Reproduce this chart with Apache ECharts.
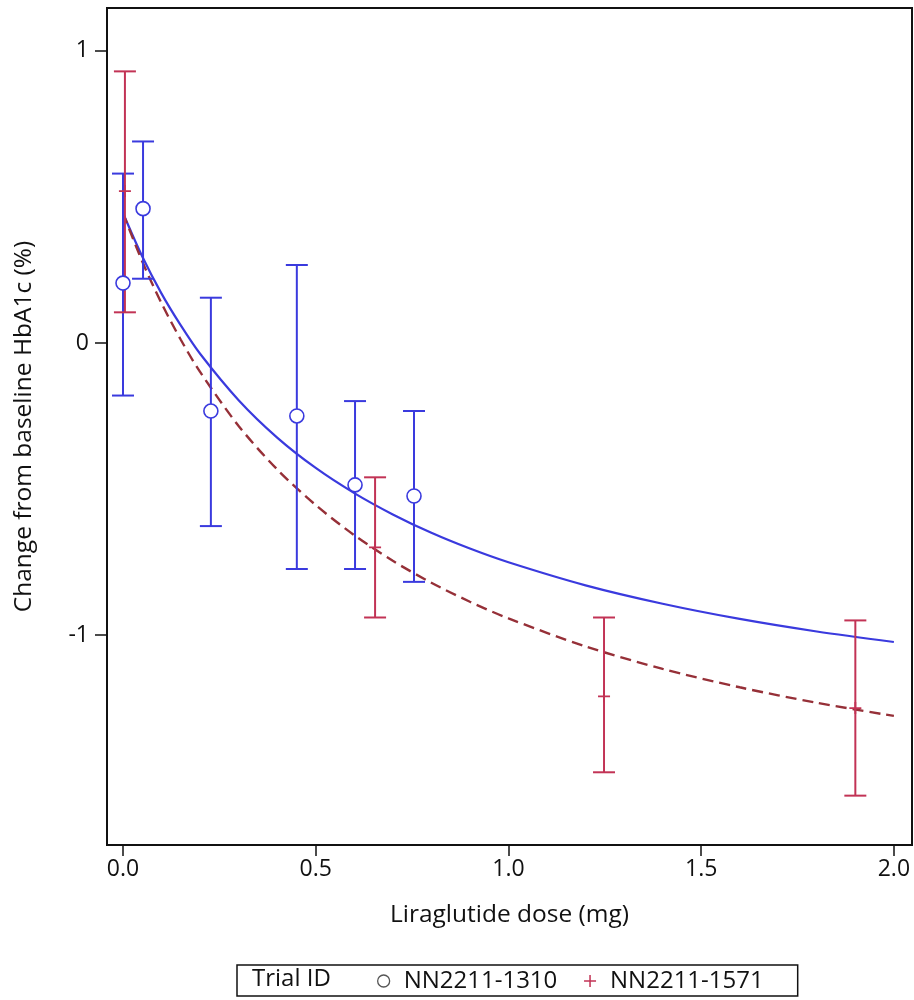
<!DOCTYPE html>
<html>
<head>
<meta charset="utf-8">
<script src="https://cdn.jsdelivr.net/npm/echarts@6/dist/echarts.min.js"></script>
<style>html,body{margin:0;padding:0;background:#fff}#c{width:914px;height:1000px}</style>
</head>
<body>
<div id="c"></div>
<script>
// Trial NN2211-1310 (blue, circles)
const doseA = [0, 0.052, 0.228, 0.451, 0.602, 0.755];
const meanA = [0.205, 0.46, -0.233, -0.25, -0.486, -0.524];
const lowA  = [-0.18, 0.22, -0.627, -0.774, -0.774, -0.818];
const highA = [0.58, 0.69, 0.155, 0.267, -0.199, -0.233];
// Trial NN2211-1571 (red, plus)
const doseB = [0.005, 0.654, 1.248, 1.90];
const meanB = [0.52, -0.70, -1.21, -1.25];
const lowB  = [0.105, -0.94, -1.47, -1.55];
const highB = [0.93, -0.46, -0.94, -0.95];
// Fitted curves
const curveX = [0, 0.05, 0.1, 0.15, 0.2, 0.3, 0.4, 0.5, 0.6, 0.7, 0.8, 0.9, 1.0, 1.2, 1.4, 1.6, 1.8, 2.0];
const curveA = [0.445, 0.296, 0.169, 0.060, -0.037, -0.196, -0.324, -0.428, -0.514, -0.587, -0.650, -0.704, -0.751, -0.830, -0.893, -0.945, -0.988, -1.024];
const curveB = [0.445, 0.279, 0.136, 0.011, -0.099, -0.284, -0.433, -0.555, -0.658, -0.746, -0.821, -0.886, -0.943, -1.039, -1.116, -1.179, -1.232, -1.277];
const xTicks = [0, 0.5, 1.0, 1.5, 2.0];
const yTicks = [-1, 0, 1];
const legendTitle = 'Trial ID';
const nameA = 'NN2211-1310';
const nameB = 'NN2211-1571';

const blue = '#3a3ade';
const red = '#c23355';
const redLine = '#963038';
const FONT = 'Open Sans';

function errBar(color, capHalf) {
  return function (params, api) {
    const x = api.value(0), lo = api.value(1), hi = api.value(2);
    const pH = api.coord([x, hi]), pL = api.coord([x, lo]);
    const st = { stroke: color, lineWidth: 2 };
    return { type: 'group', children: [
      { type: 'line', shape: { x1: pH[0], y1: pH[1], x2: pL[0], y2: pL[1] }, style: st },
      { type: 'line', shape: { x1: pH[0] - capHalf, y1: pH[1], x2: pH[0] + capHalf, y2: pH[1] }, style: st },
      { type: 'line', shape: { x1: pL[0] - capHalf, y1: pL[1], x2: pL[0] + capHalf, y2: pL[1] }, style: st }
    ] };
  };
}

const chart = echarts.init(document.getElementById('c'), null, { renderer: 'canvas' });
const plusPath = 'path://M0,5 L10,5 M5,0 L5,10';
chart.setOption({
  animation: false,
  backgroundColor: '#fff',
  textStyle: { fontFamily: FONT },
  grid: { left: 107, top: 8, right: 2, bottom: 155, show: true, borderColor: '#111', borderWidth: 2, backgroundColor: '#fff' },
  xAxis: {
    type: 'value', min: -0.0415, max: 2.047,
    name: 'Liraglutide dose (mg)', nameLocation: 'middle', nameGap: 58,
    nameTextStyle: { fontSize: 24.5, color: '#111', fontFamily: FONT },
    axisLine: { show: true, onZero: false, lineStyle: { color: '#111', width: 2 } },
    axisTick: { show: true, length: 11, customValues: xTicks, lineStyle: { color: '#111', width: 1.5 } },
    axisLabel: { customValues: xTicks, fontSize: 23, color: '#111', margin: 13, fontFamily: FONT, formatter: v => v.toFixed(1) },
    splitLine: { show: false }
  },
  yAxis: {
    type: 'value', min: -1.719, max: 1.147,
    name: 'Change from baseline HbA1c (%)', nameLocation: 'middle', nameGap: 70,
    nameTextStyle: { fontSize: 24.5, color: '#111', fontFamily: FONT },
    axisLine: { show: true, onZero: false, lineStyle: { color: '#111', width: 2 } },
    axisTick: { show: true, length: 12, customValues: yTicks, lineStyle: { color: '#111', width: 1.5 } },
    axisLabel: { customValues: yTicks, fontSize: 23, color: '#111', margin: 18, fontFamily: FONT, formatter: v => String(v) },
    splitLine: { show: false }
  },
  legend: {
    left: 237, top: 965,
    padding: [4, 34, 3, 140],
    borderColor: '#111', borderWidth: 1.5,
    itemWidth: 30, itemHeight: 12, itemGap: 26, symbolKeepAspect: true,
    textStyle: { fontSize: 24, color: '#111', fontFamily: FONT },
    data: [
      { name: nameA, icon: 'circle', itemStyle: { color: '#fff', borderColor: '#555', borderWidth: 1.3, opacity: 1 } },
      { name: nameB, icon: plusPath, itemStyle: { color: red, borderColor: red, borderWidth: 1.5 } }
    ]
  },
  graphic: [
    { type: 'text', left: 252, top: 967, style: { text: legendTitle, fontSize: 24, fill: '#111', fontFamily: FONT } }
  ],
  series: [
    {
      type: 'line', name: 'fitA', data: curveX.map((x, i) => [x, curveA[i]]), smooth: 0.3,
      symbol: 'none', lineStyle: { color: blue, width: 2.2 }, z: 3
    },
    {
      type: 'line', name: 'fitB', data: curveX.map((x, i) => [x, curveB[i]]), smooth: 0.3,
      symbol: 'none', lineStyle: { color: redLine, width: 2.4, type: [11, 6] }, z: 3
    },
    {
      type: 'custom', name: 'errA', renderItem: errBar(blue, 11),
      data: doseA.map((x, i) => [x, lowA[i], highA[i]]), z: 4, silent: true
    },
    {
      type: 'custom', name: 'errB', renderItem: errBar(red, 11),
      data: doseB.map((x, i) => [x, lowB[i], highB[i]]), z: 4, silent: true
    },
    {
      type: 'scatter', name: nameA, data: doseA.map((x, i) => [x, meanA[i]]),
      symbol: 'circle', symbolSize: 14,
      itemStyle: { color: '#ffffff', borderColor: blue, borderWidth: 1.6, opacity: 1 }, z: 5
    },
    {
      type: 'scatter', name: nameB, data: doseB.map((x, i) => [x, meanB[i]]),
      symbol: plusPath, symbolSize: 12,
      itemStyle: { color: red, borderColor: red, borderWidth: 1.8, opacity: 1 }, z: 5
    }
  ]
});
</script>
</body>
</html>
